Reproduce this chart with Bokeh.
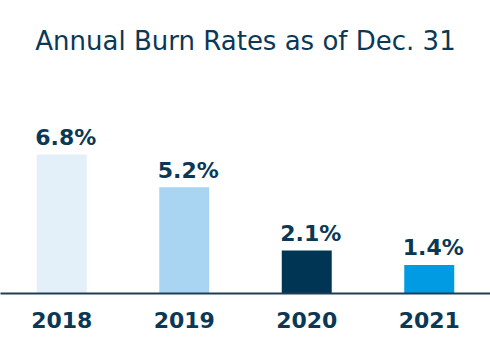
from bokeh.plotting import figure
from bokeh.models import ColumnDataSource, Range1d, FixedTicker, LabelSet
from bokeh.core.properties import value
from bokeh.embed import file_html
from bokeh.resources import INLINE

years = ["2018", "2019", "2020", "2021"]
rates = [6.8, 5.2, 2.1, 1.4]
rate_labels = ["6.8%", "5.2%", "2.1%", "1.4%"]
colors = ["#e3f0f9", "#a9d5f2", "#003654", "#009be3"]

TEXT = "#0b3855"
FONT = "DejaVu Sans"

idx = list(range(len(years)))
src = ColumnDataSource(dict(x=idx, top=rates, label=rate_labels, color=colors))

p = figure(width=490, height=360, output_backend="svg", toolbar_location=None,
           x_range=Range1d(-0.5, len(years) - 0.5),
           y_range=Range1d(0, 10.81),
           min_border_left=0, min_border_right=0, min_border_top=72, min_border_bottom=67)

p.title.text = "Annual Burn Rates as of Dec. 31"
p.title.text_font = FONT
p.title.text_font_size = "26px"
p.title.text_font_style = "normal"
p.title.text_color = TEXT
p.title.align = "center"
p.title.standoff = 34

p.vbar(x="x", top="top", bottom=0, width=0.408, color="color", source=src, line_color=None)

labels = LabelSet(x="x", y="top", text="label", source=src, text_align="center",
                  text_baseline="alphabetic", x_offset=4, y_offset=9.5, text_font=value(FONT),
                  text_font_size=value("22px"), text_font_style="bold", text_color=TEXT)
p.add_layout(labels)

p.yaxis.visible = False
p.xgrid.visible = False
p.ygrid.visible = False
p.outline_line_color = None

ax = p.xaxis[0]
ax.ticker = FixedTicker(ticks=idx)
ax.major_label_overrides = {i: y for i, y in zip(idx, years)}
ax.major_tick_line_color = None
ax.minor_tick_line_color = None
ax.axis_line_color = "#1f3e56"
ax.axis_line_width = 2
ax.major_label_text_font = FONT
ax.major_label_text_font_size = "22px"
ax.major_label_text_font_style = "bold"
ax.major_label_text_color = TEXT
ax.major_label_standoff = 12

open("out.html", "w").write(file_html(p, INLINE))
